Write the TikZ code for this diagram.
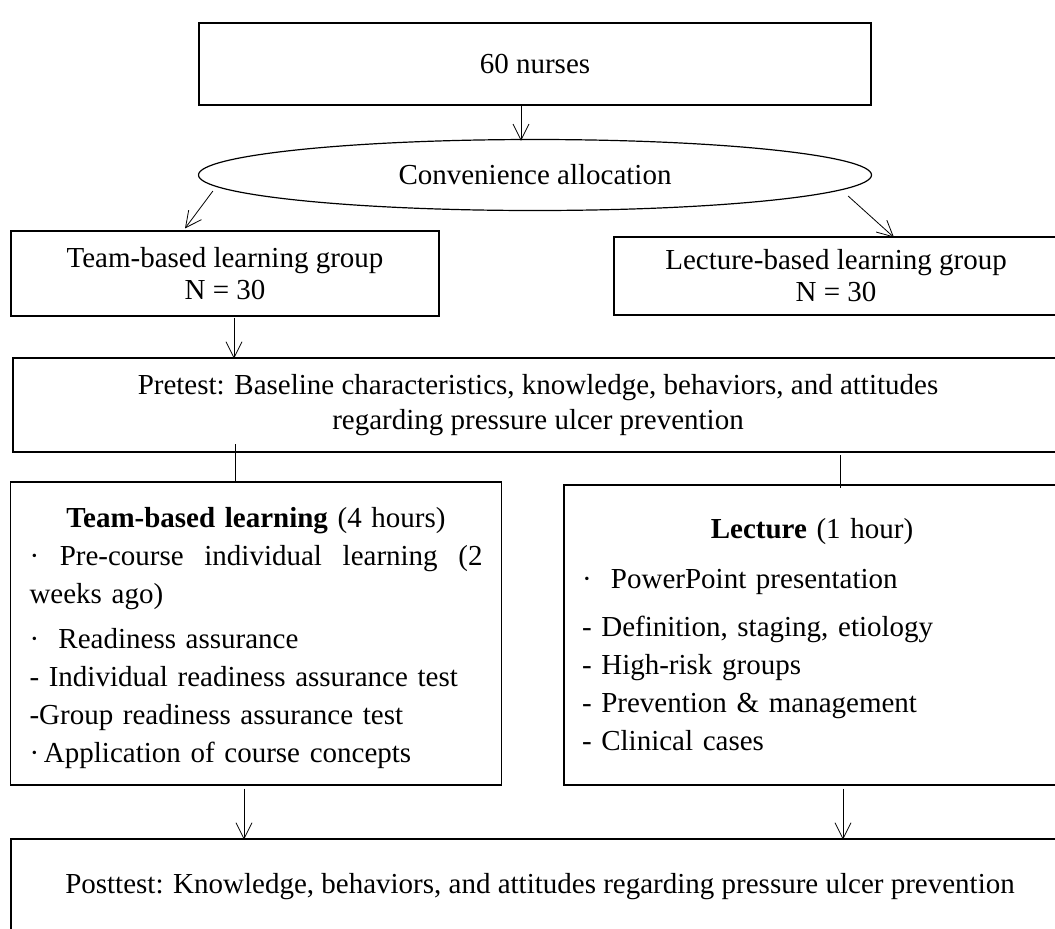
\documentclass[tikz,border=0pt]{standalone}
\usepackage{fontspec}
\setmainfont{Liberation Serif}
\usetikzlibrary{shapes.geometric,arrows.meta,calc}

\tikzset{
  box/.style={draw, rectangle, line width=0.6pt, inner sep=0pt, align=center,
    font=\fontsize{14.5}{16}\selectfont},
  oval/.style={draw, ellipse, line width=0.6pt, inner sep=0pt,
    font=\fontsize{14.5}{16}\selectfont},
  listbox/.style={draw, rectangle, line width=0.6pt, inner ysep=0pt, align=left,
    font=\fontsize{14.5}{19}\selectfont},
  arr/.style={-{Straight Barb[length=8pt,width=8pt]}, line width=0.4pt},
  link/.style={line width=0.5pt}
}

\begin{document}
\begin{tikzpicture}[x=0.5pt,y=-0.5pt]
  \useasboundingbox (0,0) rectangle (1055,928);
  \clip (0,0) rectangle (1055,928);

  % boxes
  \node[box, minimum width=336pt, minimum height=41pt] (nurses) at (535,64) {60 nurses};
  \node[oval, minimum width=336.5pt, minimum height=35.5pt] (alloc) at (535,175) {Convenience allocation};
  \node[box, minimum width=214pt, minimum height=42.5pt] (tbgroup) at (225,273.5)
    {Team-based learning group\\N = 30};
  \node[box, minimum width=222pt, minimum height=39pt] (lbgroup) at (836,276)
    {Lecture-based learning group\\N = 30};
  \node[box, minimum width=525pt, minimum height=47pt, font=\fontsize{14.5}{17.5}\selectfont] (pretest) at (538,405)
    {Pretest: Baseline characteristics, knowledge, behaviors, and attitudes\\regarding pressure ulcer prevention};
  \node[listbox, text width=226.5pt, inner xsep=9.5pt, minimum height=151.5pt] (tbl) at (256,633.5)
    {\rule{0pt}{15pt}\hfill\textbf{Team-based learning} (4 hours)\hfill\null\\
     ·\hfill Pre-course\hfill individual\hfill learning\hfill (2\\
     weeks ago)\\[3.5pt]
     ·\ \ Readiness assurance\\
     - Individual readiness assurance test\\
     -Group readiness assurance test\\
     ·\,Application of course concepts};
  \node[listbox, text width=230pt, inner xsep=9pt, minimum height=150pt] (lbl) at (812,635)
    {\hfill\textbf{Lecture} (1 hour)\hfill\null\\[6pt]
     ·\ \ PowerPoint presentation\\[5pt]
     - Definition, staging, etiology\\
     - High-risk groups\\
     - Prevention \& management\\
     - Clinical cases};
  \node[box, minimum width=529pt, minimum height=48pt] (post) at (540,887)
    {Posttest: Knowledge, behaviors, and attitudes regarding pressure ulcer prevention};

  % connectors
  \draw[arr] ($(nurses.south)+(-14,0)$) -- ($(alloc.north)+(-14,2)$); % nurses-alloc
  \draw[arr] ($(alloc.west)+(15,16)$) -- ($(tbgroup.north)+(-40,-2)$); % alloc-tb
  \draw[arr] ($(alloc.east)+(-24,21)$) -- ($(lbgroup.north)+(58,1)$); % alloc-lb
  \draw[arr] ($(tbgroup.south)+(9,1)$) -- ($(tbgroup.south)+(9,42)$); % tb-pretest
  \draw[link] ($(tbl.north)+(-21,-37)$) -- ($(tbl.north)+(-21,0)$); % pretest-tbl
  \draw[link] ($(lbl.north)+(28,-29)$) -- ($(lbl.north)+(28,4)$); % pretest-lbl
  \draw[arr] ($(tbl.south)+(-12,3)$) -- ($(tbl.south)+(-12,54)$); % tbl-post
  \draw[arr] ($(lbl.south)+(31,3)$) -- ($(lbl.south)+(31,54)$); % lbl-post
\end{tikzpicture}
\end{document}
